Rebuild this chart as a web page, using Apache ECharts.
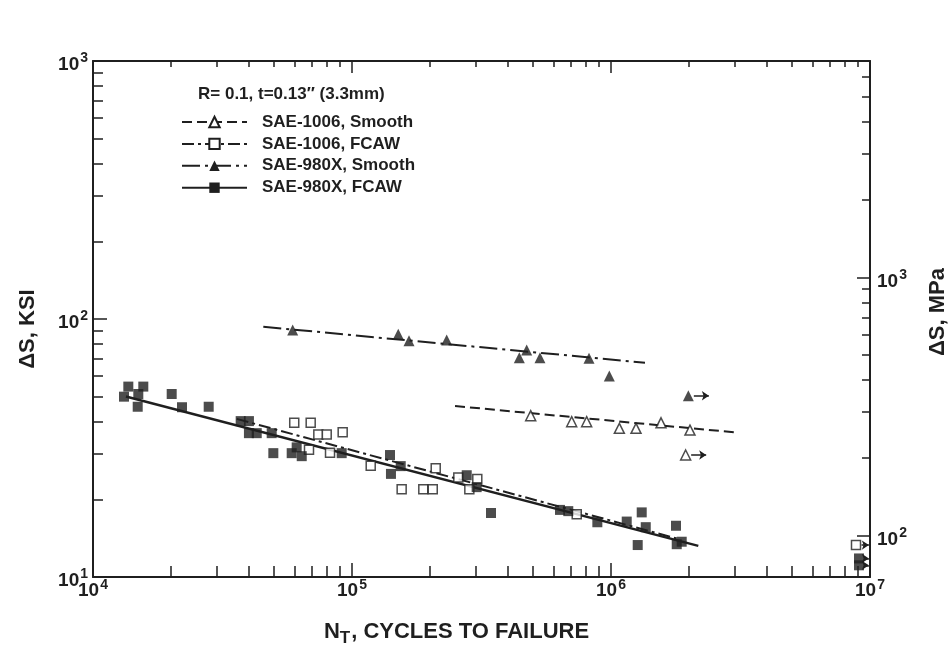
<!DOCTYPE html>
<html>
<head>
<meta charset="utf-8">
<script src="https://cdn.jsdelivr.net/npm/echarts@6/dist/echarts.min.js"></script>
<style>
html,body{margin:0;padding:0;background:#fff;}
#chart{width:949px;height:657px;}
</style>
</head>
<body>
<div id="chart"></div>
<script>
// ---------- DATA ----------
const seriesNames = ['SAE-1006, Smooth', 'SAE-1006, FCAW', 'SAE-980X, Smooth', 'SAE-980X, FCAW'];
const noteText = 'R= 0.1, t=0.13″ (3.3mm)';

// SAE-1006, Smooth (open triangles)
const s1006SmoothN = [489700, 705000, 805400, 1077000, 1249000, 1560000, 2018000];
const s1006SmoothS = [42.2, 40.0, 40.0, 37.7, 37.7, 39.6, 37.1];
const s1006SmoothRunN = [1942000];
const s1006SmoothRunS = [29.7];
const s1006SmoothFitN = [249900, 3057000];
const s1006SmoothFitS = [46.0, 36.3];

// SAE-1006, FCAW (open squares)
const s1006FcawN = [59840, 69260, 74130, 79860, 92050, 68230, 82250, 118100, 210500, 155500, 188500, 205000, 257300, 283800, 304600, 737400];
const s1006FcawS = [39.6, 39.6, 35.7, 35.7, 36.4, 31.1, 30.3, 27.0, 26.4, 21.9, 21.9, 21.9, 24.3, 21.9, 24.0, 17.5];
const s1006FcawRunN = [8830000];
const s1006FcawRunS = [13.3];
const s1006FcawFitN = [35880, 1794000];
const s1006FcawFitS = [41.0, 14.1];

// SAE-980X, Smooth (filled triangles)
const s980SmoothN = [59020, 150900, 166000, 232100, 472700, 442600, 531800, 822400, 984900];
const s980SmoothS = [90.6, 87.3, 82.4, 82.9, 75.8, 70.8, 70.8, 70.4, 60.1];
const s980SmoothRunN = [1989000];
const s980SmoothRunS = [50.4];
const s980SmoothFitN = [45450, 1353000];
const s980SmoothFitS = [93.3, 67.7];

// SAE-980X, FCAW (filled squares)
const s980FcawN = [13170, 13690, 15640, 14960, 14880, 20130, 22060, 27970, 37170, 40000, 40000, 42870, 48970, 49690, 58500, 61150, 63960, 91240, 140200, 141400, 154200, 277300, 302900, 344100, 635300, 684000, 885700, 1150000, 1314000, 1362000, 1268000, 1782000, 1794000, 1875000];
const s980FcawS = [50.0, 54.7, 54.7, 51.2, 45.7, 51.2, 45.5, 45.7, 40.2, 40.2, 36.1, 36.1, 36.1, 30.2, 30.2, 31.8, 29.4, 30.2, 29.7, 25.1, 26.9, 24.8, 22.3, 17.7, 18.2, 18.0, 16.3, 16.4, 17.8, 15.6, 13.3, 15.8, 13.4, 13.7];
const s980FcawRunN = [9070000, 9070000];
const s980FcawRunS = [11.8, 11.1];
const s980FcawFitN = [13400, 2173000];
const s980FcawFitS = [50.1, 13.2];

// Axes / ticks
const xMin = 1e4, xMax = 1e7;
const yMin = 10, yMax = 1000;
const ksiToMpa = 6.894757;
const xLabelValues = [1e4, 1e5, 1e6, 1e7];
const xMajorTicks = [1e5, 1e6];
const xMinorTicks = [2e4,3e4,4e4,5e4,6e4,7e4,8e4,9e4, 2e5,3e5,4e5,5e5,6e5,7e5,8e5,9e5, 2e6,3e6,4e6,5e6,6e6,7e6,8e6,9e6];
const yLabelValues = [10, 100, 1000];
const yMajorTicks = [100];
const yMinorTicks = [20,30,40,50,60,70,80,90, 200,300,400,500,600,700,800,900];
const mpaLabelValues = [100, 1000];
const mpaMajorTicks = [100, 1000];
const mpaMinorTicks = [200,300,400,500,600,700,800,900, 2000,3000,4000,5000,6000];
const xTitle = '{n|N}{t|T}{n|, CYCLES TO FAILURE}';
const yTitle = 'ΔS, KSI';
const y2Title = 'ΔS, MPa';

// ---------- CHART ----------
const FONT = '"Liberation Sans", Arial, Helvetica, sans-serif';
const INK = '#1f1f1f';
const zip = (a, b) => a.map((v, i) => [v, b[i]]);
const powLabel = v => '{b|10}{s|' + Math.round(Math.log10(v)) + '}';
const yPowRich = {
  b: {fontSize: 19, fontWeight: 'bold', color: INK, fontFamily: FONT, verticalAlign: 'top', lineHeight: 19, padding: [4, 0, 9, 0]},
  s: {fontSize: 14, fontWeight: 'bold', color: INK, fontFamily: FONT, verticalAlign: 'top', lineHeight: 14, padding: [0, 0, 0, 1]}
};
const xPowRich = {
  b: {fontSize: 19, fontWeight: 'bold', color: INK, fontFamily: FONT, verticalAlign: 'top', lineHeight: 19, padding: [3, 0, 0, 0]},
  s: {fontSize: 14, fontWeight: 'bold', color: INK, fontFamily: FONT, verticalAlign: 'top', lineHeight: 14, padding: [0, 0, 0, 1]}
};
const axisLineStyle = {color: INK, width: 2};
const tickStyle = {color: INK, width: 1.5};
const titleFont = {fontSize: 22, fontWeight: 'bold', color: INK, fontFamily: FONT};

function baseAxis(extra) {
  return Object.assign({
    type: 'log', logBase: 10,
    splitLine: {show: false},
    minorTick: {show: false},
    axisLine: {show: false},
    axisLabel: {show: false},
    axisTick: {show: false}
  }, extra);
}

const xAxes = [
  baseAxis({
    min: xMin, max: xMax, position: 'bottom',
    axisLine: {show: true, lineStyle: axisLineStyle},
    axisTick: {show: true, inside: true, length: 14, lineStyle: tickStyle, customValues: xMajorTicks},
    axisLabel: {show: true, margin: 1, customValues: xLabelValues, formatter: powLabel, rich: xPowRich},
    name: xTitle, nameLocation: 'middle', nameGap: 44,
    nameTextStyle: {padding: [0, 50, 0, 0], rich: {
      n: Object.assign({verticalAlign: 'top', lineHeight: 22}, titleFont),
      t: Object.assign({}, titleFont, {fontSize: 17, verticalAlign: 'top', lineHeight: 17, padding: [9, 1, 0, 0]})
    }}
  }),
  baseAxis({
    min: xMin, max: xMax, position: 'bottom',
    axisTick: {show: true, inside: true, length: 11, lineStyle: tickStyle, customValues: xMinorTicks}
  }),
  baseAxis({
    min: xMin, max: xMax, position: 'top',
    axisLine: {show: true, lineStyle: axisLineStyle},
    axisTick: {show: true, inside: true, length: 6, lineStyle: tickStyle, customValues: xMinorTicks}
  }),
  baseAxis({
    min: xMin, max: xMax, position: 'top',
    axisTick: {show: true, inside: true, length: 12, lineStyle: tickStyle, customValues: xMajorTicks}
  })
];

const yAxes = [
  baseAxis({
    min: yMin, max: yMax, position: 'left',
    axisLine: {show: true, lineStyle: axisLineStyle},
    axisTick: {show: true, inside: true, length: 14, lineStyle: tickStyle, customValues: yMajorTicks},
    axisLabel: {show: true, margin: 5, customValues: yLabelValues, formatter: powLabel, rich: yPowRich},
    name: yTitle, nameLocation: 'middle', nameGap: 54, nameRotate: 90,
    nameTextStyle: Object.assign({padding: [0, 20, 0, 0]}, titleFont)
  }),
  baseAxis({
    min: yMin, max: yMax, position: 'left',
    axisTick: {show: true, inside: true, length: 10, lineStyle: tickStyle, customValues: yMinorTicks}
  }),
  baseAxis({
    min: yMin * ksiToMpa, max: yMax * ksiToMpa, position: 'right',
    axisLine: {show: true, lineStyle: axisLineStyle},
    axisTick: {show: true, inside: true, length: 13, lineStyle: tickStyle, customValues: mpaMajorTicks},
    axisLabel: {show: true, margin: 7, customValues: mpaLabelValues, formatter: powLabel, rich: yPowRich},
    name: y2Title, nameLocation: 'middle', nameGap: 57, nameRotate: 90,
    nameTextStyle: Object.assign({padding: [0, 0, 0, 14]}, titleFont)
  }),
  baseAxis({
    min: yMin * ksiToMpa, max: yMax * ksiToMpa, position: 'right',
    axisTick: {show: true, inside: true, length: 8, lineStyle: tickStyle, customValues: mpaMinorTicks}
  })
];

const openStyle = {color: '#ffffff', borderColor: INK, borderWidth: 1.5};
const fillStyle = {color: INK, borderColor: INK, borderWidth: 0};

const groups = [
  {name: seriesNames[0], n: s1006SmoothN, s: s1006SmoothS, rn: s1006SmoothRunN, rs: s1006SmoothRunS, fn: s1006SmoothFitN, fs: s1006SmoothFitS,
   symbol: 'triangle', size: 10, style: openStyle, dash: [10, 5], width: 2},
  {name: seriesNames[1], n: s1006FcawN, s: s1006FcawS, rn: s1006FcawRunN, rs: s1006FcawRunS, fn: s1006FcawFitN, fs: s1006FcawFitS,
   symbol: 'rect', size: 9, style: openStyle, dash: [12, 4, 3, 4], width: 2},
  {name: seriesNames[2], n: s980SmoothN, s: s980SmoothS, rn: s980SmoothRunN, rs: s980SmoothRunS, fn: s980SmoothFitN, fs: s980SmoothFitS,
   symbol: 'triangle', size: 11, style: fillStyle, dash: [18, 5, 3, 5], width: 2},
  {name: seriesNames[3], n: s980FcawN, s: s980FcawS, rn: s980FcawRunN, rs: s980FcawRunS, fn: s980FcawFitN, fs: s980FcawFitS,
   symbol: 'rect', size: 10, style: fillStyle, dash: 'solid', width: 2.5}
];

const series = [];
groups.forEach(g => {
  series.push({
    type: 'line', name: g.name, data: zip(g.fn, g.fs),
    xAxisIndex: 0, yAxisIndex: 0,
    symbol: g.symbol, showSymbol: false, silent: true, z: 2,
    itemStyle: g.style,
    lineStyle: {color: INK, width: g.width, type: g.dash}
  });
});
groups.forEach(g => {
  series.push({
    type: 'scatter', name: g.name, data: zip(g.n, g.s),
    xAxisIndex: 0, yAxisIndex: 0,
    symbol: g.symbol, symbolSize: g.size, itemStyle: g.style, silent: true, z: 4
  });
  series.push({
    type: 'scatter', name: g.name, data: zip(g.rn, g.rs),
    xAxisIndex: 0, yAxisIndex: 0,
    symbol: g.symbol, symbolSize: g.size, itemStyle: g.style, silent: true, z: 4,
    markLine: {
      silent: true, animation: false,
      symbol: ['none', 'arrow'], symbolSize: 7,
      label: {show: false},
      lineStyle: {color: INK, width: 1.5, type: 'solid'},
      data: g.rn.map((n, i) => [
        {coord: [n * 1.05, g.rs[i]]},
        {coord: [Math.min(n * 1.2, xMax * 0.99), g.rs[i]]}
      ])
    }
  });
});

const option = {
  animation: false,
  backgroundColor: '#ffffff',
  textStyle: {fontFamily: FONT},
  title: {
    text: noteText, left: 198, top: 86, padding: 0,
    textStyle: {fontSize: 17, fontWeight: 'bold', color: INK, fontFamily: FONT}
  },
  legend: {
    orient: 'vertical', left: 181, top: 113.5, padding: 0,
    itemWidth: 65, itemHeight: 13, itemGap: 4.9,
    selectedMode: false,
    data: seriesNames,
    textStyle: {fontSize: 17, fontWeight: 'bold', color: INK, fontFamily: FONT, padding: [0, 0, 0, 10], lineHeight: 14}
  },
  grid: {left: 93, right: 79, top: 61, bottom: 80, outerBoundsMode: 'none', containLabel: false},
  xAxis: xAxes,
  yAxis: yAxes,
  series: series
};

const chart = echarts.init(document.getElementById('chart'), null, {renderer: 'canvas'});
chart.setOption(option);
</script>
</body>
</html>
